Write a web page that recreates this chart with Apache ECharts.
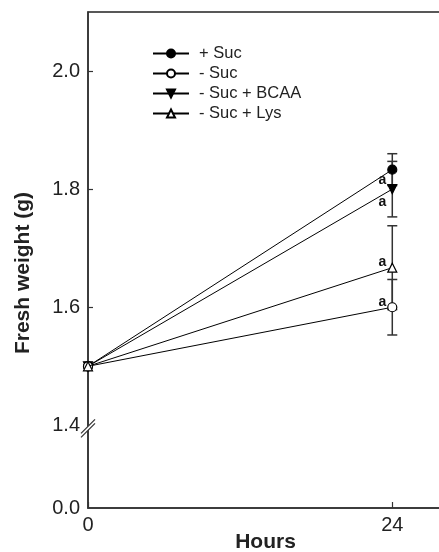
<!DOCTYPE html>
<html>
<head>
<meta charset="utf-8">
<script src="https://cdn.jsdelivr.net/npm/echarts@6/dist/echarts.min.js"></script>
<style>html,body{margin:0;padding:0;background:#fff;}#c{width:439px;height:552px;}</style>
</head>
<body>
<div id="c"></div>
<script>
const hours = [0, 24];
const sucPlus = [1.5, 1.833];
const sucMinus = [1.5, 1.600];
const sucBCAA = [1.5, 1.800];
const sucLys = [1.5, 1.667];
const errPlus = [0, 0.027];
const errMinus = [0, 0.047];
const errBCAA = [0, 0.047];
const errLys = [0, 0.071];
const seriesNames = ['+ Suc', '- Suc', '- Suc + BCAA', '- Suc + Lys'];
const sigLetters = ['a', 'a', 'a', 'a'];
const yTickValues = [0.0, 1.4, 1.6, 1.8, 2.0];
const xTickValues = [0, 24];

const Y_MIN = 1.26, Y_BREAK = 1.4;
function ty(v) { return v >= Y_BREAK ? v : Y_MIN + (v / Y_BREAK) * (Y_BREAK - Y_MIN); }

const FONT = 'Liberation Sans, Arial, Helvetica, sans-serif';
const INK = '#222';

function pts(vals) { return hours.map((h, i) => [h, ty(vals[i])]); }

function lineSeries(name, vals, symbol, fill, rot, size, letter, offset, z) {
  return {
    name: name, type: 'line', data: pts(vals).map((p, i) => ({
      value: p,
      label: i === hours.length - 1 ? {
        show: true, formatter: letter, position: 'left', distance: 1, offset: offset,
        fontFamily: FONT, fontWeight: 'bold', fontSize: 14, color: '#111'
      } : { show: false }
    })),
    symbol: symbol, symbolSize: size, symbolRotate: rot,
    itemStyle: { color: fill, borderColor: '#000', borderWidth: 1.2 },
    lineStyle: { color: '#000', width: 1 },
    z: z, animation: false
  };
}

function errSeries(vals, errs) {
  return {
    type: 'custom', z: 1, silent: true, animation: false,
    data: hours.map((h, i) => [h, vals[i], errs[i]]).filter(d => d[2] > 0),
    renderItem: function (params, api) {
      const x = api.value(0), m = api.value(1), e = api.value(2);
      const top = api.coord([x, ty(m + e)]);
      const bot = api.coord([x, ty(m - e)]);
      const st = { stroke: '#333', lineWidth: 1.5 };
      return {
        type: 'group', children: [
          { type: 'line', shape: { x1: top[0], y1: top[1], x2: bot[0], y2: bot[1] }, style: st },
          { type: 'line', shape: { x1: top[0] - 5, y1: top[1], x2: top[0] + 5, y2: top[1] }, style: st },
          { type: 'line', shape: { x1: bot[0] - 5, y1: bot[1], x2: bot[0] + 5, y2: bot[1] }, style: st }
        ]
      };
    }
  };
}

const chart = echarts.init(document.getElementById('c'), null, { renderer: 'canvas' });
const option = {
  animation: false,
  backgroundColor: '#fff',
  textStyle: { fontFamily: FONT },
  grid: {
    left: 88, top: 12, right: -4, bottom: 44, containLabel: false, outerBoundsMode: 'none',
    show: true, borderColor: '#222', borderWidth: 1.5, backgroundColor: 'transparent'
  },
  legend: {
    data: seriesNames, orient: 'vertical', left: 152, top: 45, padding: 0,
    itemWidth: 36, itemHeight: 10, itemGap: 3,
    textStyle: { fontFamily: FONT, fontSize: 16.5, color: INK, padding: [0, 0, 0, 5] },
    selectedMode: false
  },
  xAxis: {
    type: 'value', min: 0, max: 28,
    name: 'Hours', nameLocation: 'middle', nameGap: 24, nameMoveOverlap: false,
    nameTextStyle: { fontFamily: FONT, fontSize: 21, fontWeight: 'bold', color: INK },
    axisLine: { lineStyle: { color: '#333', width: 1.5 } },
    axisTick: { inside: true, length: 6, customValues: xTickValues, lineStyle: { color: '#333', width: 1.2 } },
    axisLabel: { customValues: xTickValues, margin: 7, fontSize: 20, color: INK, fontFamily: FONT, showMinLabel: true },
    splitLine: { show: false }
  },
  yAxis: {
    type: 'value', min: Y_MIN, max: 2.1,
    name: 'Fresh weight (g)', nameLocation: 'middle', nameGap: 54, nameMoveOverlap: false,
    nameTextStyle: { fontFamily: FONT, fontSize: 21, fontWeight: 'bold', color: INK, padding: [0, 26, 0, 0] },
    axisLine: { lineStyle: { color: '#333', width: 1.5 } },
    axisTick: { inside: true, length: 5, customValues: [1.6, 1.8, 2.0], lineStyle: { color: '#333', width: 1.2 } },
    axisLabel: {
      customValues: yTickValues.map(ty), margin: 8, fontSize: 20, color: INK, fontFamily: FONT,
      showMinLabel: true, showMaxLabel: true,
      formatter: function (v) { return v < Y_BREAK - 0.01 ? '0.0' : v.toFixed(1); }
    },
    splitLine: { show: false }
  },
  series: [
    errSeries(sucPlus, errPlus),
    errSeries(sucBCAA, errBCAA),
    errSeries(sucLys, errLys),
    errSeries(sucMinus, errMinus),
    lineSeries(seriesNames[0], sucPlus, 'circle', '#000', 0, 9, sigLetters[0], [0, 10], 3),
    lineSeries(seriesNames[2], sucBCAA, 'triangle', '#000', 180, 9, sigLetters[2], [0, 13], 3),
    lineSeries(seriesNames[1], sucMinus, 'circle', '#fff', 0, 9, sigLetters[1], [0, -5], 4),
    lineSeries(seriesNames[3], sucLys, 'triangle', '#fff', 0, 9, sigLetters[3], [0, -6], 5)
  ]
};
chart.setOption(option);

const bp = chart.convertToPixel({ gridIndex: 0 }, [0, Y_BREAK]);
const bx = bp[0], by = bp[1] + 2;
chart.setOption({
  graphic: [
    { type: 'polygon', z: 100, shape: { points: [[bx - 6, by + 5], [bx + 6, by - 7], [bx + 6, by - 3], [bx - 6, by + 9]] }, style: { fill: '#fff' } },
    { type: 'line', z: 101, shape: { x1: bx - 7, y1: by + 6, x2: bx + 7, y2: by - 8 }, style: { stroke: '#333', lineWidth: 1.2 } },
    { type: 'line', z: 101, shape: { x1: bx - 7, y1: by + 10, x2: bx + 7, y2: by - 4 }, style: { stroke: '#333', lineWidth: 1.2 } }
  ]
});
</script>
</body>
</html>
